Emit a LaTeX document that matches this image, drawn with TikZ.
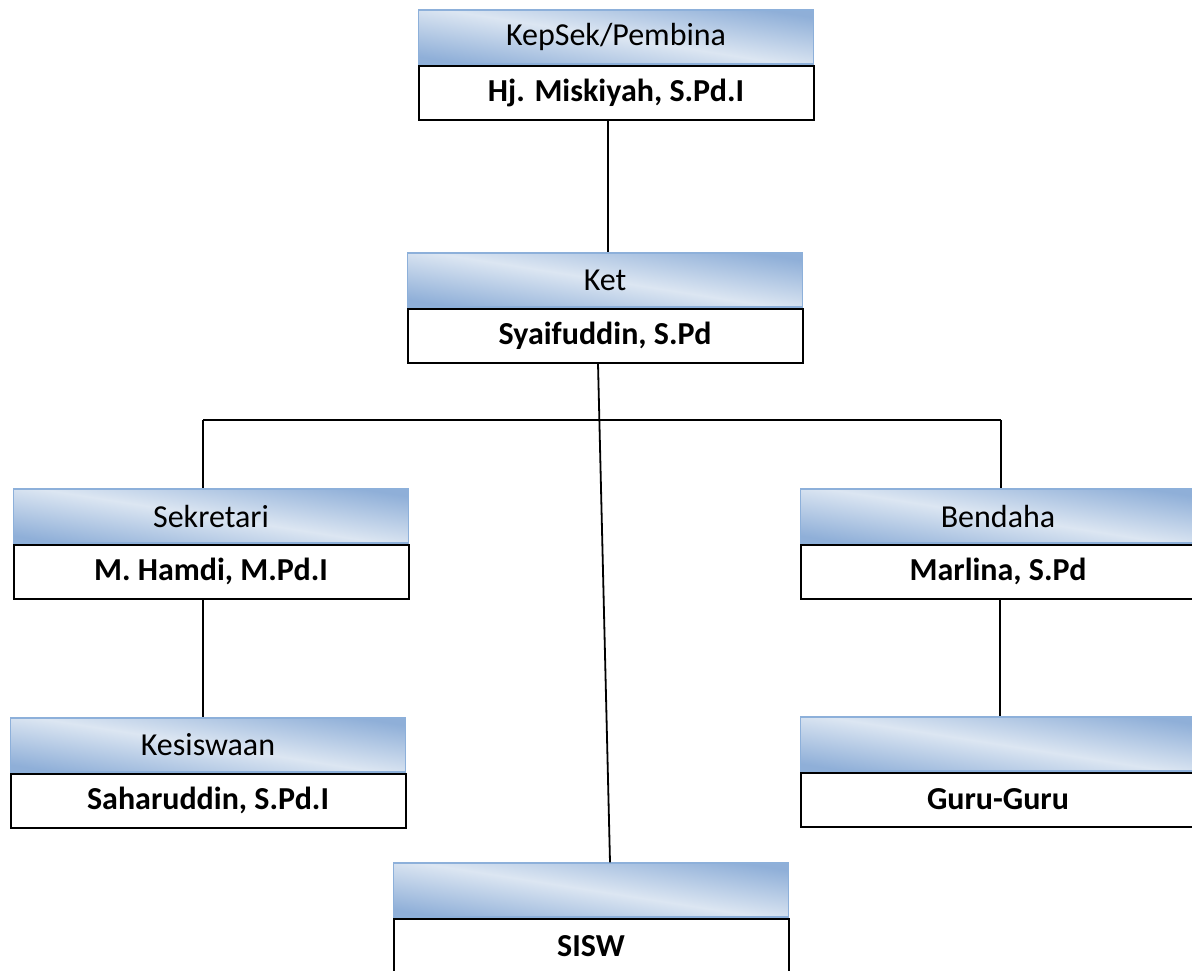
\documentclass[tikz,border=0pt]{standalone}
\usepackage{fontspec}
\setmainfont{Carlito}
\usetikzlibrary{positioning}
\definecolor{hdrgelap}{HTML}{8FAFD8}
\definecolor{hdrterang}{HTML}{DCE6F2}
\definecolor{hdrgaris}{HTML}{8DB0DA}

\tikzset{
  jabatan/.style={draw=hdrgaris,line width=0.6pt,top color=hdrgelap,bottom color=hdrgelap,
                  middle color=hdrterang,shading angle=-9,minimum width=197.5pt,
                  minimum height=27pt,inner sep=0pt,font=\fontsize{16}{19}\selectfont},
  nama/.style={draw=black,line width=1pt,fill=white,minimum width=197.5pt,
               minimum height=27pt,inner sep=0pt,font=\fontsize{16}{19}\selectfont\bfseries},
  garis/.style={line width=0.9pt}
}

\begin{document}
\begin{tikzpicture}[x=0.5pt,y=-0.5pt]
\useasboundingbox (0,0) rectangle (1192,970);
\clip (0,0) rectangle (1192,970);

% pimpinan
\node[jabatan] (pembH) at (616,37) {KepSek/Pembina};
\node[nama,below=0pt of pembH] (pembN) {Hj. Miskiyah, S.Pd.I};
\node[jabatan] (ketH) at (605,280) {Ket};
\node[nama,below=0pt of ketH] (ketN) {Syaifuddin, S.Pd};

% cabang kiri dan kanan
\node[jabatan] (sekH) at (211,516) {Sekretari};
\node[nama,below=0pt of sekH] (sekN) {M. Hamdi, M.Pd.I};
\node[jabatan] (bendH) at (998,516) {Bendaha};
\node[nama,below=0pt of bendH] (bendN) {Marlina, S.Pd};
\node[jabatan] (kesH) at (208,745) {Kesiswaan};
\node[nama,below=0pt of kesH] (kesN) {Saharuddin, S.Pd.I};
\node[jabatan] (guruH) at (998,744) {};
\node[nama,below=0pt of guruH] (guruN) {Guru-Guru};
\node[jabatan] (siswH) at (591,890) {};
\node[nama,below=0pt of siswH] (siswN) {SISW};

% garis
\coordinate (cabKiri) at (203,420);
\coordinate (cabKanan) at (1001,420);
\draw[garis] ([xshift=-4pt]pembN.south) -- ([xshift=1.5pt]ketH.north);
\draw[garis] ([xshift=-3.5pt]ketN.south) -- ([xshift=9.5pt]siswH.north);
\draw[garis] (cabKiri) -- (cabKanan);
\draw[garis] (cabKiri) -- (cabKiri |- sekH.north);
\draw[garis] (cabKanan) -- (cabKanan |- bendH.north);
\draw[garis] ([xshift=-4pt]sekN.south) -- ([xshift=-2.5pt]kesH.north);
\draw[garis] ([xshift=1pt]bendN.south) -- ([xshift=1pt]guruH.north);
\end{tikzpicture}
\end{document}
